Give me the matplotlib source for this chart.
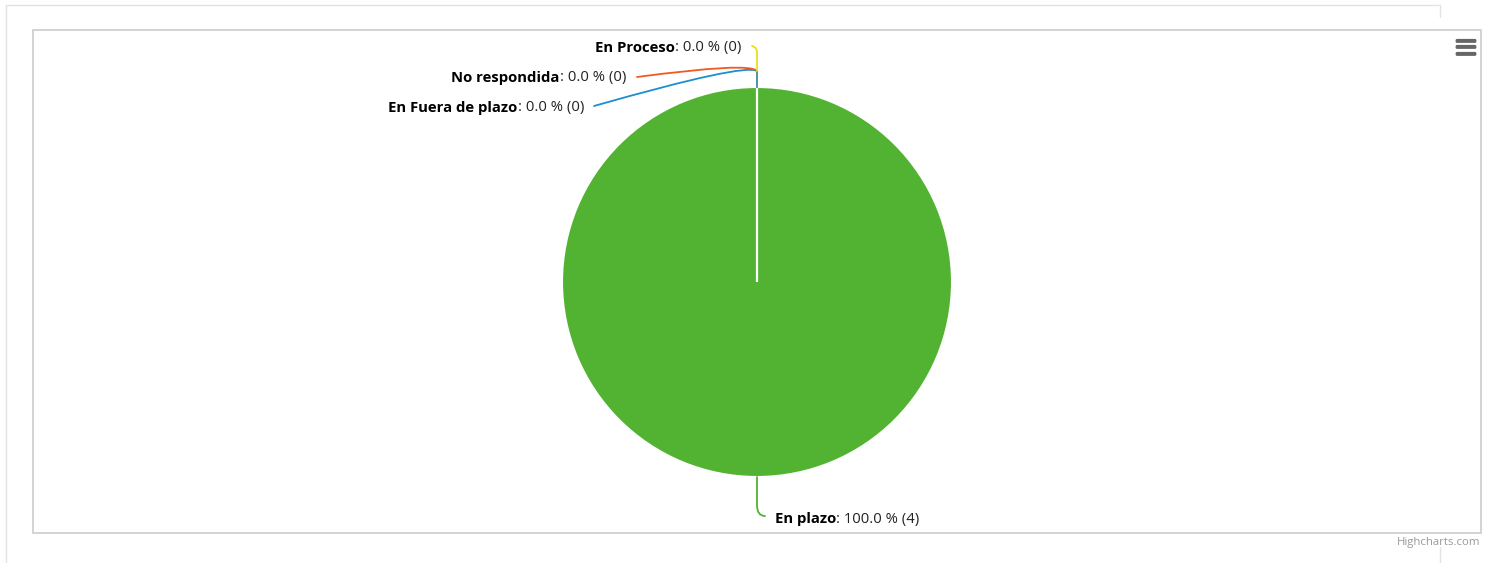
import matplotlib
matplotlib.use("Agg")
import matplotlib.pyplot as plt
from matplotlib.path import Path
from matplotlib.patches import PathPatch, Rectangle, FancyBboxPatch

W, H = 1487, 563

# data
labels = ["En plazo", "En Fuera de plazo", "No respondida", "En Proceso"]
counts = [4, 0, 0, 0]
colors = ["#52b333", "#1a8fd2", "#f05a22", "#e6e21b"]

total = sum(counts)
percents = [100.0 * c / total for c in counts]

plt.rcParams["font.family"] = ["Open Sans", "DejaVu Sans"]

fig = plt.figure(figsize=(W / 100, H / 100), dpi=100)
fig.patch.set_facecolor("white")
ax = fig.add_axes([0, 0, 1, 1])


def py(y):
    # pixel row (top-down) -> data y
    return H - y


# pie
cx, cy, r = 757, 282, 195
ax.pie(counts, colors=colors, center=(cx, py(cy)), radius=r, startangle=90, counterclock=False,
       frame=True, wedgeprops=dict(edgecolor="white", linewidth=1.5, zorder=2))
ax.set_xlim(0, W)
ax.set_ylim(0, H)
ax.set_aspect("auto")
ax.axis("off")

# outer page frame
ax.plot([6, 6, 1440, 1440], [py(563), py(5), py(5), py(563)], color="#e3e3e3", lw=1, zorder=0)
# chart container
ax.add_patch(Rectangle((12, py(547)), W - 12, 529, facecolor="white", edgecolor="none", zorder=0.5))
# plot border
ax.add_patch(Rectangle((33, py(533)), 1448, 503, facecolor="none", edgecolor="#cccccc", lw=1.2, zorder=1))


def connector(pts, color):
    # first segment straight, then one quadratic bend
    verts = [(x, py(y)) for x, y in pts]
    codes = [Path.MOVETO, Path.LINETO, Path.CURVE3, Path.CURVE3]
    ax.add_patch(PathPatch(Path(verts, codes), facecolor="none", edgecolor=color, lw=1.3,
                           capstyle="round", zorder=3))


top = cy - r
bottom = cy + r
label_pos = {
    "En Proceso": (741, 48, "right"),
    "No respondida": (626, 78, "right"),
    "En Fuera de plazo": (584, 108, "right"),
    "En plazo": (775, 519, "left"),
}
connector([(cx, top - 16), (cx, top - 16), (745, 63), (594, 106)], colors[1])
connector([(cx, top - 16), (cx, top - 16), (750, 62), (637, 77)], colors[2])
ax.plot([cx, cx], [py(top), py(top - 16)], color="#3f8b9c", lw=1.3, zorder=3)
connector([(cx, top - 16), (cx, top - 34), (cx, top - 40), (752, 46)], colors[3])
connector([(cx, bottom), (cx, bottom + 28), (cx, bottom + 39), (765, 516)], colors[0])

fig.canvas.draw()
renderer = fig.canvas.get_renderer()
fs = 10.7
for lab, pct, cnt in zip(labels, percents, counts):
    x, y, side = label_pos[lab]
    value = ": %.1f %% (%d)" % (pct, cnt)
    if side == "right":
        t = ax.text(x, py(y), value, ha="right", va="center", fontsize=fs, color="#222222", zorder=4)
        bb = t.get_window_extent(renderer)
        ax.text(x - bb.width, py(y), lab, ha="right", va="center", fontsize=fs,
                fontweight="bold", color="black", zorder=4)
    else:
        t = ax.text(x, py(y), lab, ha="left", va="center", fontsize=fs, fontweight="bold",
                    color="black", zorder=4)
        bb = t.get_window_extent(renderer)
        ax.text(x + bb.width, py(y), value, ha="left", va="center", fontsize=fs,
                color="#222222", zorder=4)

# menu icon
for yy in (41, 47, 54):
    ax.add_patch(FancyBboxPatch((1456, py(yy) - 1.5), 20, 3.2, boxstyle="round,pad=0.4,rounding_size=1.5",
                                facecolor="#666666", edgecolor="none", zorder=4))

ax.text(1480, py(542), "Highcharts.com", ha="right", va="center", fontsize=8.2, color="#999999")

fig.savefig("out.png", dpi=100, facecolor="white")
